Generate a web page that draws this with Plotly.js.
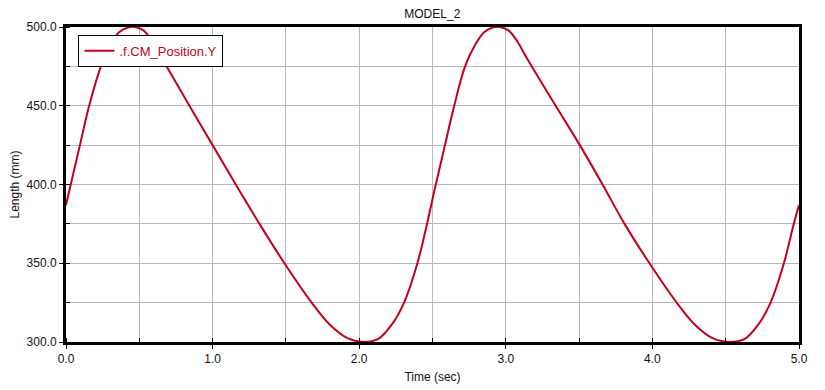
<!DOCTYPE html>
<html>
<head>
<meta charset="utf-8">
<script src="https://cdn.plot.ly/plotly-3.0.1.min.js"></script>
<style>html,body{margin:0;padding:0;background:#fff;}#chart{width:825px;height:390px;}</style>
</head>
<body>
<div id="chart"></div>
<script>
// Data
const timeSec = [0, 0.03, 0.095, 0.158, 0.238, 0.30, 0.36, 0.42, 0.47, 0.53, 0.59, 0.65, 0.845, 1.0, 1.158, 1.32, 1.49, 1.676, 1.80, 1.92, 2.03, 2.13, 2.233, 2.306, 2.397, 2.46, 2.52, 2.585, 2.648, 2.722, 2.79, 2.85, 2.91, 2.96, 3.02, 3.08, 3.14, 3.34, 3.505, 3.66, 3.81, 3.98, 4.166, 4.29, 4.41, 4.53, 4.63, 4.733, 4.806, 4.897, 4.96, 5.0];
const positionY = [387, 399, 425, 450, 475, 488.5, 496.5, 499.6, 500, 497.7, 490.6, 480.8, 449.5, 425, 400, 375, 350, 325, 311, 302.5, 300, 302, 312.5, 325, 350, 374, 399, 425, 450, 475, 488.5, 496.5, 499.6, 500, 497.7, 490.6, 480.8, 450, 425, 400, 375, 350, 325, 311, 302.5, 300, 302, 312.5, 325, 350, 373.5, 387];
const seriesName = '.f.CM_Position.Y';
const xTickVals = [0, 1, 2, 3, 4, 5];
const xTickText = ['0.0', '1.0', '2.0', '3.0', '4.0', '5.0'];
const yTickVals = [300, 350, 400, 450, 500];
const yTickText = ['300.0', '350.0', '400.0', '450.0', '500.0'];

const font = 'Liberation Sans, Arial, sans-serif';
const trace = {
  x: timeSec, y: positionY, type: 'scatter', mode: 'lines', name: seriesName,
  line: {color: '#c4001c', width: 2, shape: 'spline', smoothing: 1},
  showlegend: true
};
const axisCommon = {
  showline: true, mirror: true, linecolor: '#000', linewidth: 3,
  showgrid: true, gridcolor: '#b8b8b8', gridwidth: 1, zeroline: false,
  ticks: 'outside', ticklen: 4, tickcolor: '#000', tickwidth: 1,
  tickfont: {family: font, size: 12, color: '#111'},
  tickmode: 'array'
};
const layout = {
  width: 825, height: 390,
  margin: {l: 66, r: 26, t: 27, b: 48, pad: 0},
  paper_bgcolor: '#fff', plot_bgcolor: '#fff',
  title: {text: 'MODEL_2', font: {family: font, size: 12, color: '#111'}, x: 0.524, xanchor: 'center', y: 0.965, yanchor: 'middle'},
  xaxis: Object.assign({}, axisCommon, {
    range: [0, 5], tickvals: xTickVals, ticktext: xTickText,
    minor: {dtick: 0.5, tick0: 0, showgrid: true, gridcolor: '#b8b8b8', ticks: 'inside', ticklen: 4, tickcolor: '#000'},
    title: {text: 'Time (sec)', font: {family: font, size: 12, color: '#111'}, standoff: 8}
  }),
  yaxis: Object.assign({}, axisCommon, {
    range: [300, 500], tickvals: yTickVals, ticktext: yTickText,
    minor: {dtick: 25, tick0: 300, showgrid: true, gridcolor: '#b8b8b8', ticks: 'inside', ticklen: 4, tickcolor: '#000'},
    title: {text: 'Length (mm)', font: {family: font, size: 12, color: '#111'}, standoff: 5}
  }),
  showlegend: true,
  legend: {
    x: 0.017, y: 0.975, xanchor: 'left', yanchor: 'top',
    bgcolor: '#fff', bordercolor: '#000', borderwidth: 1,
    font: {family: font, size: 13, color: '#c4001c'},
    itemwidth: 30, tracegroupgap: 0
  }
};
Plotly.newPlot('chart', [trace], layout, {displayModeBar: false, staticPlot: true});
</script>
</body>
</html>
